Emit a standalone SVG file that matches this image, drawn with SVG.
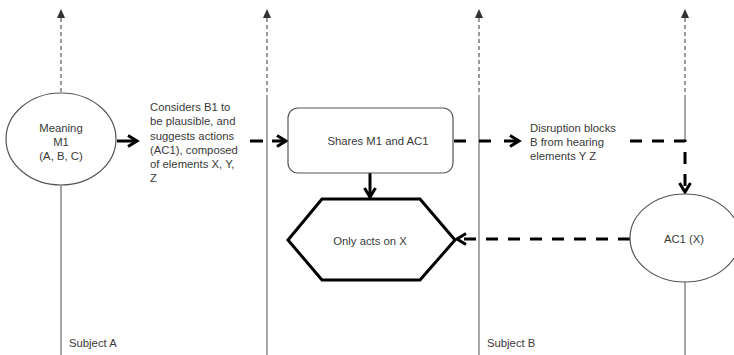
<svg xmlns="http://www.w3.org/2000/svg" width="734" height="355" viewBox="0 0 734 355">
<style>
.t{font-family:"Liberation Sans",Arial,sans-serif;font-size:11.3px;fill:#3a3a3a}
.c{text-anchor:middle}
.lane{stroke:#777;stroke-width:1.3;fill:none}
.lane-d{stroke:#666;stroke-width:1.3;fill:none;stroke-dasharray:4 3}
.thick{stroke:#000;stroke-width:3;fill:none}
.thick-d{stroke:#000;stroke-width:3;fill:none;stroke-dasharray:12 10}
.shape{fill:#fff;stroke:#555;stroke-width:1.2}
.tip{fill:#333}
</style>
<defs>
<marker id="open" viewBox="0 0 14 14" refX="11" refY="7" markerWidth="14" markerHeight="14" markerUnits="userSpaceOnUse" orient="auto">
<path d="M2,1.5 L11,7 L2,12.5" fill="none" stroke="#000" stroke-width="3"/>
</marker>
</defs>
<rect width="734" height="355" fill="#fff"/>

<g id="lanes">
<line class="lane-d" x1="61" y1="18" x2="61" y2="93"/>
<line class="lane" x1="61" y1="185" x2="61" y2="355"/>
<line class="lane-d" x1="267" y1="18" x2="267" y2="95"/>
<line class="lane" x1="267" y1="95" x2="267" y2="355"/>
<line class="lane-d" x1="479" y1="18" x2="479" y2="95"/>
<line class="lane" x1="479" y1="95" x2="479" y2="355"/>
<line class="lane-d" x1="685" y1="18" x2="685" y2="95"/>
<line class="lane" x1="685" y1="95" x2="685" y2="142"/>
<line class="lane" x1="685" y1="282" x2="685" y2="355"/>
<path class="tip" d="M57,18 L61,9 L65,18 Z"/>
<path class="tip" d="M263,18 L267,9 L271,18 Z"/>
<path class="tip" d="M475,18 L479,9 L483,18 Z"/>
<path class="tip" d="M681,18 L685,9 L689,18 Z"/>
<text class="t" x="69" y="347">Subject A</text>
<text class="t" x="487" y="347">Subject B</text>
</g>

<g id="connectors">
<line class="thick" x1="117" y1="141" x2="137" y2="141" marker-end="url(#open)"/>
<line class="thick-d" x1="250" y1="141" x2="286" y2="141" style="stroke-dasharray:13 9" marker-end="url(#open)"/>
<line class="thick-d" x1="454" y1="141" x2="519" y2="141" style="stroke-dasharray:12 13" marker-end="url(#open)"/>
<path class="thick-d" d="M630,141 L685,141 L685,192" marker-end="url(#open)"/>
<line class="thick" x1="370" y1="173" x2="370" y2="197" marker-end="url(#open)"/>
<line class="thick-d" x1="630" y1="239" x2="457" y2="239" marker-end="url(#open)"/>
</g>

<g id="meaning">
<ellipse class="shape" cx="61" cy="139" rx="55" ry="46"/>
<text class="t c" x="61" y="132">Meaning</text>
<text class="t c" x="61" y="146">M1</text>
<text class="t c" x="61" y="160">(A, B, C)</text>
</g>

<g id="considers">
<text class="t" x="150" y="111">Considers B1 to</text>
<text class="t" x="150" y="125">be plausible, and</text>
<text class="t" x="150" y="140">suggests actions</text>
<text class="t" x="150" y="154">(AC1), composed</text>
<text class="t" x="150" y="168">of elements X, Y,</text>
<text class="t" x="150" y="182">Z</text>
</g>

<g id="shares">
<rect class="shape" x="288" y="108" width="165" height="65" rx="10"/>
<text class="t c" x="378" y="145">Shares M1 and AC1</text>
</g>

<g id="disruption">
<text class="t" x="530" y="132">Disruption blocks</text>
<text class="t" x="530" y="146">B from hearing</text>
<text class="t" x="530" y="160">elements Y Z</text>
</g>

<g id="ac1">
<ellipse class="shape" cx="685" cy="238" rx="55" ry="44"/>
<text class="t c" x="684" y="243">AC1 (X)</text>
</g>

<g id="only-acts">
<path d="M288,240 L322,199 L420,199 L455,240 L420,280 L322,280 Z" fill="#fff" stroke="#000" stroke-width="3"/>
<text class="t c" x="370" y="245">Only acts on X</text>
</g>
</svg>
